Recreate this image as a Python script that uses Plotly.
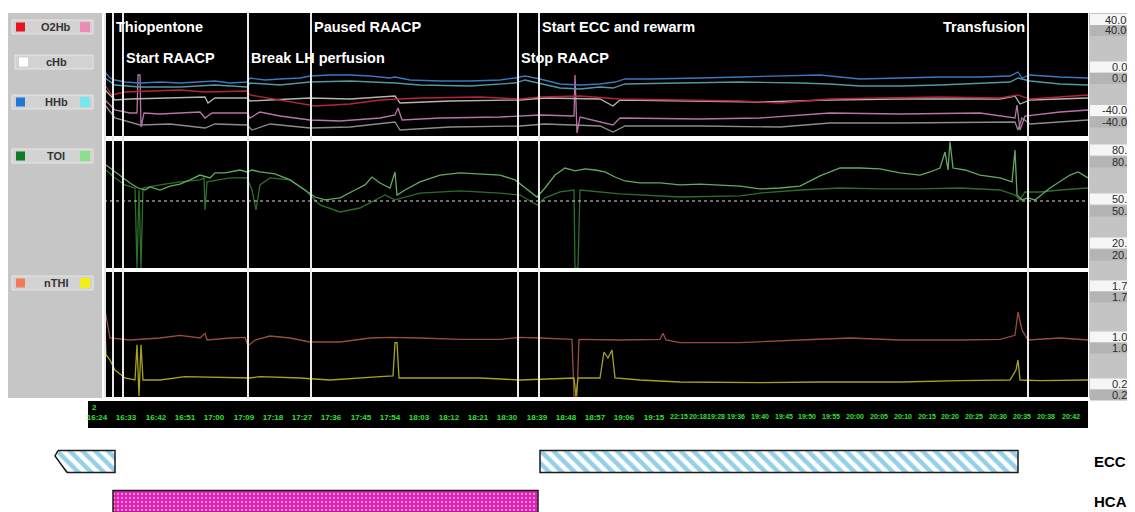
import plotly.graph_objects as go

# page is offset by the browser's 8px body margin: figure covers page pixels 8..1135 x 8..512
OX, OY = 8, 8
W, H = 1135 - OX, 512 - OY

# ---------------- data (x = trace sample position, y = value) ----------------
# Panel 1: haemoglobin changes (umol/l)
HHB_1 = [(1,-1.6),(6,-6.4),(11,-8.0),(21,-9.6),(36,-10.4),(56,-9.6),(76,-10.4),(96,-9.6),(111,-8.8),(126,-10.4),
         (143,-9.6),(146,-6.4),(161,-8.0),(176,-7.2),(196,-6.4),(206,-4.8),(226,-4.0),(246,-4.0),(266,-4.8),(286,-6.4),
         (291,-5.6),(306,-8.0),(336,-8.8),(366,-8.8),(396,-8.0),(411,-6.4),(421,-4.8),(436,-7.2),(456,-11.2),(476,-12.0),
         (496,-11.2),(511,-9.6),(521,-7.2),(546,-7.2),(576,-6.4),(596,-6.4),(636,-5.6),(676,-4.8),(716,-4.0),(736,-5.6),
         (756,-7.2),(796,-6.4),(836,-5.6),(876,-5.6),(906,-4.8),(914,-1.6),(918,-6.4),(926,-4.0),(956,-5.6),(984,-6.4)]
HHB_2 = [(1,-6.4),(11,-12.0),(36,-13.6),(76,-13.6),(111,-12.0),(143,-13.6),(146,-10.4),(176,-12.0),(206,-9.6),(246,-8.8),
         (291,-10.4),(316,-12.0),(366,-12.8),(411,-10.4),(421,-8.0),(456,-14.4),(476,-15.2),(496,-13.6),(509,-14.4),(521,-11.2),
         (576,-10.4),(636,-9.6),(696,-10.4),(726,-11.2),(756,-12.8),(796,-12.8),(836,-12.0),(876,-10.4),(906,-9.6),(914,-6.4),
         (926,-8.8),(956,-11.2),(984,-12.0)]
O2HB_1 = [(1,-12.0),(8,-20.0),(21,-17.6),(46,-16.8),(76,-16.0),(101,-17.6),(143,-16.8),(146,-20.0),(176,-24.0),(196,-27.2),
          (211,-28.8),(246,-27.2),(276,-24.0),(316,-22.4),(376,-21.6),(416,-23.2),(436,-21.6),(476,-20.8),(516,-23.2),(576,-24.0),
          (636,-24.8),(676,-26.4),(726,-23.2),(776,-22.4),(836,-21.6),(896,-22.4),(914,-20.0),(926,-23.2),(956,-21.6),(984,-20.0)]
CHB_1 = [(1,-16.0),(11,-24.0),(26,-23.2),(56,-22.4),(101,-21.6),(104,-26.4),(111,-22.4),(143,-22.4),(146,-24.8),(166,-24.0),
         (206,-22.4),(246,-23.2),(291,-20.8),(296,-26.4),(346,-24.8),(416,-24.0),(441,-22.4),(496,-23.2),(509,-28.8),(516,-24.0),
         (596,-24.8),(656,-25.6),(726,-24.0),(796,-23.2),(896,-23.2),(911,-20.8),(916,-27.2),(926,-24.0),(984,-22.4)]
O2HB_2 = [(1,-24.0),(11,-32.0),(26,-34.4),(33,-34.4),(34,-4.0),(36,-4.0),(37,-45.6),(40,-34.4),(56,-35.2),(96,-33.6),
          (101,-38.4),(108,-34.4),(143,-34.4),(146,-38.4),(156,-33.6),(176,-36.8),(206,-40.0),(236,-40.8),(276,-38.4),(291,-36.0),
          (294,-30.4),(298,-40.0),(336,-38.4),(396,-37.6),(436,-36.0),(470,-36.8),(471,-4.0),(473,-50.4),(476,-37.6),(509,-44.0),
          (516,-38.4),(596,-39.2),(656,-38.4),(726,-34.4),(796,-35.2),(876,-34.4),(911,-38.4),(913,-28.0),(916,-48.0),(921,-36.8),
          (956,-33.6),(984,-32.0)]
CHB_2 = [(1,-28.0),(11,-38.4),(36,-44.0),(66,-43.2),(101,-46.4),(111,-43.2),(143,-44.0),(148,-48.0),(166,-43.2),(206,-46.4),
         (246,-45.6),(291,-41.6),(296,-48.0),(346,-45.6),(416,-44.8),(441,-43.2),(496,-44.8),(509,-49.6),(521,-44.8),(596,-44.8),
         (676,-45.6),(726,-42.4),(796,-42.4),(876,-41.6),(911,-41.6),(914,-48.0),(918,-38.4),(926,-43.2),(984,-40.0)]

# Panel 2: tissue oxygenation index (%)
TOI_1 = [(2,67.2),(11,62.8),(21,58.9),(31,57.2),(33,12.8),(35,56.1),(37,12.8),(39,57.2),(56,58.9),(76,60.6),
         (96,61.7),(100,62.8),(101,45.0),(103,60.6),(126,62.8),(143,62.8),(148,56.1),(152,45.0),(156,58.9),(166,62.8),
         (186,61.7),(201,56.1),(216,47.8),(236,43.9),(256,46.1),(271,50.6),(281,53.3),(291,50.6),(316,54.4),(356,55.6),
         (396,54.4),(416,53.3),(433,47.8),(441,51.7),(456,55.0),(470,56.1),(471,12.8),(474,12.8),(476,56.1),(516,53.9),
         (576,52.2),(636,52.8),(656,54.4),(696,56.1),(736,57.2),(776,56.7),(816,56.7),(856,57.2),(896,56.1),(911,53.3),
         (916,50.6),(921,55.0),(936,55.0),(956,56.1),(984,57.2)]
TOI_2 = [(2,70.0),(6,68.3),(16,64.4),(26,60.0),(34,57.2),(41,56.1),(46,57.8),(56,56.1),(66,58.3),(76,59.4),
         (86,61.7),(96,64.4),(106,62.8),(111,65.6),(121,65.6),(136,67.2),(143,66.1),(148,67.2),(156,66.1),(171,65.0),
         (186,61.7),(201,56.1),(211,52.2),(221,50.6),(236,51.7),(251,56.1),(261,58.9),(268,63.3),(276,60.0),(286,57.2),
         (291,66.1),(293,53.3),(301,56.1),(316,60.6),(336,64.4),(356,65.6),(376,65.0),(396,64.4),(411,61.7),(426,55.0),
         (433,52.2),(441,57.2),(451,64.4),(461,68.3),(471,66.7),(481,67.8),(491,67.2),(501,66.1),(511,63.3),(521,61.1),
         (536,60.0),(556,60.0),(576,58.9),(596,59.4),(616,58.9),(636,58.3),(656,56.7),(676,57.2),(696,58.3),(716,63.9),
         (736,68.3),(756,68.3),(776,67.8),(796,65.6),(816,64.4),(826,66.1),(836,68.3),(841,77.2),(844,67.2),(846,83.0),
         (849,68.3),(861,67.2),(876,64.4),(896,62.8),(908,60.6),(911,78.3),(913,53.3),(918,50.6),(924,51.7),(931,50.6),
         (946,57.2),(966,64.4),(974,66.1),(984,62.8)]
TOI_REF = 50

# Panel 3: normalised total haemoglobin index
NTHI_1 = [(1,1.45),(3,1.30),(6,1.03),(26,1.00),(56,1.03),(76,1.07),(96,1.03),(101,1.10),(103,1.00),(126,1.03),
          (141,1.04),(144,0.91),(151,1.00),(166,1.06),(186,1.03),(206,0.97),(236,0.97),(266,1.03),(286,1.04),(316,1.03),
          (356,1.01),(396,1.01),(416,1.04),(436,1.03),(468,1.01),(470,0.16),(473,0.16),(475,1.01),(516,1.00),(556,1.01),
          (559,1.10),(562,1.00),(576,0.96),(636,0.96),(656,0.97),(696,1.00),(746,1.03),(796,1.00),(856,1.00),(896,1.01),
          (911,1.07),(914,1.42),(918,1.15),(924,1.00),(956,1.03),(984,1.00)]
NTHI_2 = [(1,1.15),(2,0.78),(6,0.70),(11,0.55),(21,0.43),(31,0.40),(33,0.93),(35,0.16),(37,0.93),(39,0.40),
          (56,0.40),(71,0.43),(81,0.45),(146,0.43),(156,0.45),(196,0.43),(226,0.40),(276,0.45),(289,0.46),(291,0.96),
          (293,0.96),(295,0.43),(316,0.43),(376,0.43),(416,0.40),(456,0.43),(470,0.43),(472,0.16),(474,0.43),(496,0.43),
          (500,0.82),(504,0.73),(508,0.85),(511,0.43),(536,0.40),(576,0.37),(656,0.36),(716,0.37),(796,0.37),(856,0.39),
          (906,0.40),(912,0.55),(914,0.70),(916,0.40),(936,0.39),(984,0.40)]

# Events
EVENT_POS = [1, 9, 19, 144, 207, 414, 435, 924]
EVENT_TEXT = [None, "Thiopentone", "Start RAACP", "Break LH perfusion", "Paused RAACP",
              "Stop RAACP", "Start ECC and rewarm", "Transfusion"]
EVENT_ROW = [0, 1, 2, 2, 1, 2, 1, 1]
MARK_POS = [23, 467, 512]          # red event marks on the time strip

# Time axis
TIME1_POS = [-7, 22, 52, 81, 110, 140, 169, 198, 227, 257, 286, 315, 345, 374, 403, 433, 462, 491, 520, 550]
TIME1_LAB = ["16:24", "16:33", "16:42", "16:51", "17:00", "17:09", "17:18", "17:27", "17:36", "17:45",
             "17:54", "18:03", "18:12", "18:21", "18:30", "18:39", "18:48", "18:57", "19:06", "19:15"]
TIME2_POS = [575, 594, 612, 632, 656, 680, 703, 727, 751, 775, 799, 823, 846, 870, 894, 918, 942, 967]
TIME2_LAB = ["22:15", "20:18", "19:28", "19:36", "19:40", "19:45", "19:50", "19:55", "20:00", "20:05",
             "20:10", "20:15", "20:20", "20:25", "20:30", "20:35", "20:38", "20:42"]

# Bypass / arrest bars
ECC_START = [-49, 436]
ECC_LEN = [60, 478]
HCA_START = [9]
HCA_LEN = [425]

# Scale labels on right
P1_LABELS = ["40.00", "0.00", "-40.00"]
P2_LABELS = ["80.0", "50.0", "20.0"]
P3_LABELS = ["1.75", "1.00", "0.25"]

LEGEND = [("O2Hb", "#e5141e", "#f08cb4"), ("cHb", "#ffffff", None), ("HHb", "#1f78d8", "#78e6f0"),
          ("TOI", "#0f7a28", "#8ce08c"), ("nTHI", "#f07a5a", "#f0f014")]

# ---------------- layout helpers (page pixel -> paper) ----------------
def fx(p):
    return (p - OX) / W

def fy(p):
    return 1 - (p - OY) / H

XR = [-96, 1031]
PANELS = {"y": (13, 136, [-52.8, 45.6]), "y2": (141, 268, [12.8, 83.3]), "y3": (272, 397, [0.145, 2.02])}

fig = go.Figure()

def add_line(pts, color, ax, width=1.3):
    fig.add_trace(go.Scatter(x=[p[0] for p in pts], y=[p[1] for p in pts], mode="lines",
                             line=dict(color=color, width=width), xaxis="x", yaxis=ax,
                             showlegend=False, hoverinfo="skip"))

add_line(CHB_2, "#8c8c8c", "y")
add_line(O2HB_2, "#b874a8", "y")
add_line(CHB_1, "#b4b4b4", "y")
add_line(O2HB_1, "#b8243a", "y")
add_line(HHB_2, "#4e9aa0", "y")
add_line(HHB_1, "#3a78c0", "y")
add_line(TOI_1, "#2c6e2c", "y2")
add_line(TOI_2, "#62aa62", "y2")
add_line(NTHI_1, "#9a4e3a", "y3")
add_line(NTHI_2, "#a6a41e", "y3")

# invisible anchors so the time-strip axes get drawn
for ax, pos in (("x2", TIME1_POS), ("x3", TIME2_POS)):
    fig.add_trace(go.Scatter(x=pos, y=[0.5] * len(pos), mode="markers", marker=dict(opacity=0),
                             xaxis=ax, yaxis="y4", showlegend=False, hoverinfo="skip"))
# red event marks at top of the time strip
fig.add_trace(go.Scatter(x=MARK_POS, y=[1.3] * len(MARK_POS), mode="markers", cliponaxis=False,
                         marker=dict(color="#e02020", size=4, symbol="square"),
                         xaxis="x2", yaxis="y4", showlegend=False, hoverinfo="skip"))

# bars
fig.add_trace(go.Bar(orientation="h", y=[1] * len(ECC_START), base=ECC_START, x=ECC_LEN, width=0.55,
                     marker=dict(color="white", line=dict(color="#1a1a1a", width=1.5),
                                 pattern=dict(shape="\\", fgcolor="#2aa0d4", bgcolor="white", size=9, solidity=0.5)),
                     xaxis="x", yaxis="y5", showlegend=False, hoverinfo="skip"))
fig.add_trace(go.Bar(orientation="h", y=[0] * len(HCA_START), base=HCA_START, x=HCA_LEN, width=0.55,
                     marker=dict(color="#e020b4", line=dict(color="#1a1a1a", width=1.5),
                                 pattern=dict(shape=".", fgcolor="#ffffff", bgcolor="#e020b4", size=4, solidity=0.25)),
                     xaxis="x", yaxis="y5", showlegend=False, hoverinfo="skip"))

shapes = []
ann = []

def text(t, x, y, size, color, xanchor="center", family="Liberation Sans, Arial", bold=True, **kw):
    ann.append(dict(text=t, x=x, y=y, xref=kw.pop("xref", "paper"), yref="paper", showarrow=False,
                    xanchor=xanchor, yanchor="middle",
                    font=dict(family=family, size=size, color=color, weight="bold" if bold else "normal"), **kw))

def prect(x0, x1, y0, y1, fill, line=None):
    shapes.append(dict(type="rect", xref="paper", yref="paper", x0=fx(x0), x1=fx(x1), y0=fy(y1), y1=fy(y0),
                       fillcolor=fill, line=line or dict(width=0), layer="below"))

# left legend panel
prect(8, 102, 13, 398, "#c6c6c6")
LEG_Y = [27, 62, 102, 156, 283]
for (lab, c1, c2), cy in zip(LEGEND, LEG_Y):
    bx0 = 12 if c2 else 15
    prect(bx0, 93, cy - 7, cy + 7, "#d2d2d2", dict(color="#e6e6e6", width=1))
    prect(bx0 + 4, bx0 + 13, cy - 4.5, cy + 4.5, c1)
    if c2:
        prect(80, 90, cy - 5, cy + 5, c2)
    text(lab, fx(56), fy(cy), 11, "#333333")

# black panels
for ax, (top, bot, rng) in PANELS.items():
    prect(104, 1088, top, bot, "black")

# right scale column
prect(1089, 1135, 13, 398, "#c4c4c4")
SCALE_Y = [(19.5, 30.5), (67, 78.5), (110.5, 122), (150, 162), (199, 211), (243, 255), (286, 297), (337, 348), (384, 395)]
for lab, (ya, yb) in zip(P1_LABELS + P2_LABELS + P3_LABELS, SCALE_Y):
    for yy, bg in ((ya, "#f6f6f6"), (yb, "#b4b4b4")):
        prect(1090, 1135, yy - 5.5, yy + 5.5, bg)
        text(lab, fx(1134.5), fy(yy), 11, "#2a2a2a", xanchor="right", bold=False)

# dotted reference line in TOI panel
shapes.append(dict(type="line", xref="x", yref="y2", x0=0, x1=984, y0=TOI_REF, y1=TOI_REF,
                   line=dict(color="#d8d8d8", width=1, dash="dot")))

# event lines and labels
for pos, txt, row in zip(EVENT_POS, EVENT_TEXT, EVENT_ROW):
    shapes.append(dict(type="line", xref="x", yref="paper", x0=pos, x1=pos, y0=fy(397), y1=fy(13),
                       line=dict(color="#e8e8e8", width=2)))
    if txt:
        right = txt == "Transfusion"
        text(txt, pos, fy(27 if row == 1 else 58), 14.5, "white", xanchor="right" if right else "left",
             xref="x", xshift=-1 if right else 1)

# time strip
prect(88, 1088, 401, 428, "black")
text("2", fx(90), fy(407), 8, "#30e030", xanchor="left")

# ECC notch (broken left end)
L = ECC_START[0]
shapes.append(dict(type="path", xref="x", yref="paper", fillcolor="white", line_width=0,
                   path=f"M {L-3} {fy(448)} L {L+3} {fy(448)} L {L+3} {fy(450.5)} L {L} {fy(456)} L {L+12} {fy(472.5)} "
                        f"L {L+12} {fy(475)} L {L-3} {fy(475)} Z"))
shapes.append(dict(type="path", xref="x", yref="paper", line=dict(color="#1a1a1a", width=1.5),
                   path=f"M {L+3} {fy(450.5)} L {L} {fy(456)} L {L+12} {fy(472.5)}"))

for t_, yy in (("ECC", 461), ("HCA", 501)):
    text(t_, fx(1092), fy(yy), 15, "black", xanchor="left",
         family="Liberation Sans Narrow, Liberation Sans, Arial")

tickfont = dict(family="Liberation Sans Narrow, Liberation Sans, Arial", size=8, color="#30e030", weight="bold")
hidden = dict(visible=False, showgrid=False, zeroline=False, fixedrange=True)

fig.update_layout(
    width=W, height=H, margin=dict(l=0, r=0, t=0, b=0, autoexpand=False),
    paper_bgcolor="white", plot_bgcolor="rgba(0,0,0,0)", barmode="overlay", showlegend=False,
    xaxis=dict(domain=[0, 1], range=XR, anchor="y5", **hidden),
    xaxis2=dict(domain=[0, 1], range=XR, anchor="y4", tickvals=TIME1_POS, ticktext=TIME1_LAB, ticks="",
                tickangle=0, showgrid=False, zeroline=False, showline=False, tickfont=tickfont, fixedrange=True),
    xaxis3=dict(domain=[0, 1], range=XR, anchor="y4", overlaying="x2", tickvals=TIME2_POS, ticktext=TIME2_LAB,
                ticks="", tickangle=0, showgrid=False, zeroline=False, showline=False,
                tickfont=dict(tickfont, size=7), fixedrange=True),
    yaxis=dict(domain=[fy(136), fy(13)], range=PANELS["y"][2], **hidden),
    yaxis2=dict(domain=[fy(268), fy(141)], range=PANELS["y2"][2], **hidden),
    yaxis3=dict(domain=[fy(397), fy(272)], range=PANELS["y3"][2], **hidden),
    yaxis4=dict(domain=[fy(411), fy(405)], range=[0, 1], anchor="x2", **hidden),
    yaxis5=dict(domain=[0, fy(440)], range=[-0.2625, 1.5375], **hidden),
    shapes=shapes, annotations=ann,
)

fig.write_html("out.html")
